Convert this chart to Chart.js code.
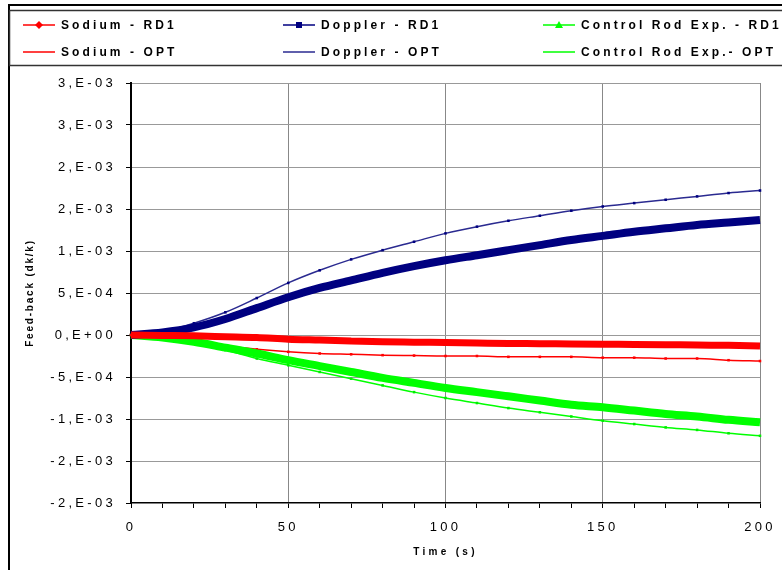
<!DOCTYPE html>
<html>
<head>
<meta charset="utf-8">
<script src="https://cdn.jsdelivr.net/npm/chart.js@4.4.0/dist/chart.umd.min.js"></script>
<style>
    html, body { margin: 0; padding: 0; background: #fff; }
    #wrap { width: 782px; height: 570px; }
</style>
</head>
<body>
<div id="wrap"><canvas id="feedbackChart" width="782" height="570"></canvas></div>
<script>
// Feed-back reactivity vs time
const times = [0, 10, 20, 30, 40, 50, 60, 70, 80, 90, 100, 110, 120, 130, 140, 150, 160, 170, 180, 190, 200];

const sodiumRD1 = [0, -5e-6, -1e-5, -2e-5, -3e-5, -5e-5, -6e-5, -7e-5, -8e-5, -8.5e-5, -9e-5, -9.5e-5, -1.0e-4, -1.03e-4, -1.07e-4, -1.1e-4, -1.12e-4, -1.15e-4, -1.2e-4, -1.22e-4, -1.3e-4];
const dopplerRD1 = [0, 3e-5, 9e-5, 1.9e-4, 3.2e-4, 4.5e-4, 5.6e-4, 6.5e-4, 7.4e-4, 8.2e-4, 8.9e-4, 9.5e-4, 1.01e-3, 1.07e-3, 1.13e-3, 1.18e-3, 1.23e-3, 1.27e-3, 1.31e-3, 1.34e-3, 1.37e-3];
const controlRD1 = [0, -3e-5, -8e-5, -1.5e-4, -2.2e-4, -3.0e-4, -3.7e-4, -4.4e-4, -5.1e-4, -5.7e-4, -6.3e-4, -6.8e-4, -7.3e-4, -7.8e-4, -8.3e-4, -8.6e-4, -9.0e-4, -9.4e-4, -9.7e-4, -1.01e-3, -1.04e-3];

const sodiumOPT = [0, -4e-5, -9e-5, -1.3e-4, -1.7e-4, -2.0e-4, -2.2e-4, -2.3e-4, -2.4e-4, -2.45e-4, -2.5e-4, -2.5e-4, -2.6e-4, -2.6e-4, -2.6e-4, -2.7e-4, -2.7e-4, -2.8e-4, -2.8e-4, -3.0e-4, -3.1e-4];
const dopplerOPT = [0, 4e-5, 1.4e-4, 2.7e-4, 4.4e-4, 6.2e-4, 7.7e-4, 9.0e-4, 1.01e-3, 1.11e-3, 1.21e-3, 1.29e-3, 1.36e-3, 1.42e-3, 1.48e-3, 1.53e-3, 1.57e-3, 1.61e-3, 1.65e-3, 1.69e-3, 1.72e-3];
const controlOPT = [0, -3e-5, -1.0e-4, -1.8e-4, -2.8e-4, -3.6e-4, -4.4e-4, -5.2e-4, -6.0e-4, -6.8e-4, -7.5e-4, -8.1e-4, -8.7e-4, -9.2e-4, -9.7e-4, -1.02e-3, -1.06e-3, -1.10e-3, -1.13e-3, -1.17e-3, -1.20e-3];

const seriesLabels = ['Sodium - RD1', 'Doppler - RD1', 'Control Rod Exp. - RD1',
                      'Sodium - OPT', 'Doppler - OPT', 'Control Rod Exp.- OPT'];

const xTickLabels = [0, 50, 100, 150, 200];
const yTickValues = [-0.002, -0.0015, -0.001, -0.0005, 0, 0.0005, 0.001, 0.0015, 0.002, 0.0025, 0.003];
const yTickLabels = ['-2,E-03', '-2,E-03', '-1,E-03', '-5,E-04', '0,E+00', '5,E-04', '1,E-03', '2,E-03', '2,E-03', '3,E-03', '3,E-03'];
const yTitle = 'Feed-back (dk/k)';

const FONT = '"Liberation Sans", Arial, sans-serif';

function pts(values) {
    return times.map((t, i) => ({ x: t, y: values[i] }));
}

// frame, legend box, legend entries and y title (Excel style)
const excelFrame = {
    id: 'excelFrame',
    beforeDraw(chart) {
        const ctx = chart.ctx;
        ctx.save();
        ctx.fillStyle = '#fff';
        ctx.fillRect(0, 0, chart.width, chart.height);
        ctx.strokeStyle = '#000';
        ctx.lineWidth = 2;
        ctx.strokeRect(9, 5, chart.width + 20, chart.height + 20);
        ctx.lineWidth = 1.5;
        ctx.strokeStyle = '#333';
        ctx.strokeRect(9.5, 10.5, chart.width + 20, 55);
        ctx.restore();
        ctx.letterSpacing = '3.3px';
    },
    afterDraw(chart) {
        const ctx = chart.ctx;
        const colX = [23, 283, 543];
        const rowY = [25, 52];
        ctx.save();
        ctx.font = 'bold 12px ' + FONT;
        ctx.letterSpacing = '3.1px';
        ctx.textBaseline = 'middle';
        chart.data.datasets.forEach((ds, i) => {
            const x = colX[i % 3];
            const y = rowY[Math.floor(i / 3)];
            ctx.strokeStyle = ds.borderColor;
            ctx.lineWidth = 1.5;
            ctx.beginPath();
            ctx.moveTo(x, y);
            ctx.lineTo(x + 32, y);
            ctx.stroke();
            const cx = x + 16;
            ctx.fillStyle = ds.borderColor;
            if (ds.legendMarker === 'diamond') {
                ctx.beginPath();
                ctx.moveTo(cx, y - 4); ctx.lineTo(cx + 4, y); ctx.lineTo(cx, y + 4); ctx.lineTo(cx - 4, y);
                ctx.closePath(); ctx.fill();
            } else if (ds.legendMarker === 'square') {
                ctx.fillRect(cx - 3, y - 3, 6, 6);
            } else if (ds.legendMarker === 'triangle') {
                ctx.beginPath();
                ctx.moveTo(cx, y - 4); ctx.lineTo(cx + 4, y + 3); ctx.lineTo(cx - 4, y + 3);
                ctx.closePath(); ctx.fill();
            }
            ctx.fillStyle = '#000';
            ctx.fillText(ds.label, x + 38, y + 1);
        });

        // y axis title, tighter spacing than the other texts
        const area = chart.chartArea;
        ctx.font = 'bold 10px ' + FONT;
        ctx.letterSpacing = '1.8px';
        ctx.textAlign = 'center';
        ctx.translate(30, (area.top + area.bottom) / 2);
        ctx.rotate(-Math.PI / 2);
        ctx.fillText(yTitle, 0, 0);
        ctx.restore();
    }
};

const optPoints = { pointRadius: 1.8, pointStyle: 'rect', pointBorderWidth: 0 };

const ctx = document.getElementById('feedbackChart');
new Chart(ctx, {
    type: 'line',
    data: {
        datasets: [{
            label: seriesLabels[0],
            data: pts(sodiumRD1),
            borderColor: '#ff0000',
            borderWidth: 7,
            legendMarker: 'diamond'
        }, {
            label: seriesLabels[1],
            data: pts(dopplerRD1),
            borderColor: '#000080',
            borderWidth: 8,
            legendMarker: 'square'
        }, {
            label: seriesLabels[2],
            data: pts(controlRD1),
            borderColor: '#00ff00',
            borderWidth: 8,
            legendMarker: 'triangle'
        }, Object.assign({
            label: seriesLabels[3],
            data: pts(sodiumOPT),
            borderColor: '#ff0000',
            backgroundColor: '#ff0000',
            borderWidth: 1.5
        }, optPoints), Object.assign({
            label: seriesLabels[4],
            data: pts(dopplerOPT),
            borderColor: '#2a2a90',
            backgroundColor: '#000080',
            borderWidth: 1.5
        }, optPoints), Object.assign({
            label: seriesLabels[5],
            data: pts(controlOPT),
            borderColor: '#00ff00',
            backgroundColor: '#00ee00',
            borderWidth: 1.5
        }, optPoints)]
    },
    options: {
        responsive: false,
        animation: false,
        layout: { padding: { left: 0, top: 83, right: 22, bottom: 0 } },
        elements: {
            point: { radius: 0, hoverRadius: 0 },
            line: { cubicInterpolationMode: 'monotone', borderCapStyle: 'butt' }
        },
        datasets: { line: { clip: 5 } },
        plugins: {
            legend: { display: false },
            tooltip: { enabled: false }
        },
        scales: {
            x: {
                type: 'linear',
                min: 0,
                max: 200,
                afterFit(scale) { scale.height = 67; scale.paddingLeft = 0; scale.paddingRight = 0; },
                border: { color: '#000', width: 1.5 },
                grid: {
                    color: c => (c.tick && c.tick.value % 50 === 0 && c.tick.value !== 0) ? '#888' : 'rgba(0,0,0,0)',
                    tickColor: '#000',
                    tickLength: 5,
                    lineWidth: 1
                },
                ticks: {
                    stepSize: 10,
                    autoSkip: false,
                    maxRotation: 0,
                    padding: 12,
                    color: '#000',
                    font: { family: FONT, size: 13 },
                    callback: v => xTickLabels.includes(v) ? String(v) : ''
                },
                title: {
                    display: true,
                    text: 'Time (s)',
                    color: '#000',
                    font: { family: FONT, size: 10, weight: 'bold' },
                    padding: { top: 0, bottom: 12 }
                }
            },
            y: {
                min: -0.002,
                max: 0.003,
                afterFit(scale) { scale.width = 131; scale.paddingTop = 0; scale.paddingBottom = 0; },
                border: { color: '#000', width: 2 },
                grid: {
                    color: c => (c.tick && Math.abs(c.tick.value - yTickValues[0]) < 1e-9) ? 'rgba(0,0,0,0)' : '#999',
                    tickColor: '#000',
                    tickLength: 5,
                    lineWidth: 1
                },
                ticks: {
                    stepSize: 0.0005,
                    autoSkip: false,
                    padding: 10,
                    color: '#000',
                    font: { family: FONT, size: 13 },
                    callback: function(value) {
                        let best = 0;
                        yTickValues.forEach((v, i) => {
                            if (Math.abs(v - value) < Math.abs(yTickValues[best] - value)) best = i;
                        });
                        return yTickLabels[best];
                    }
                }
            }
        }
    },
    plugins: [excelFrame]
});
</script>
</body>
</html>
